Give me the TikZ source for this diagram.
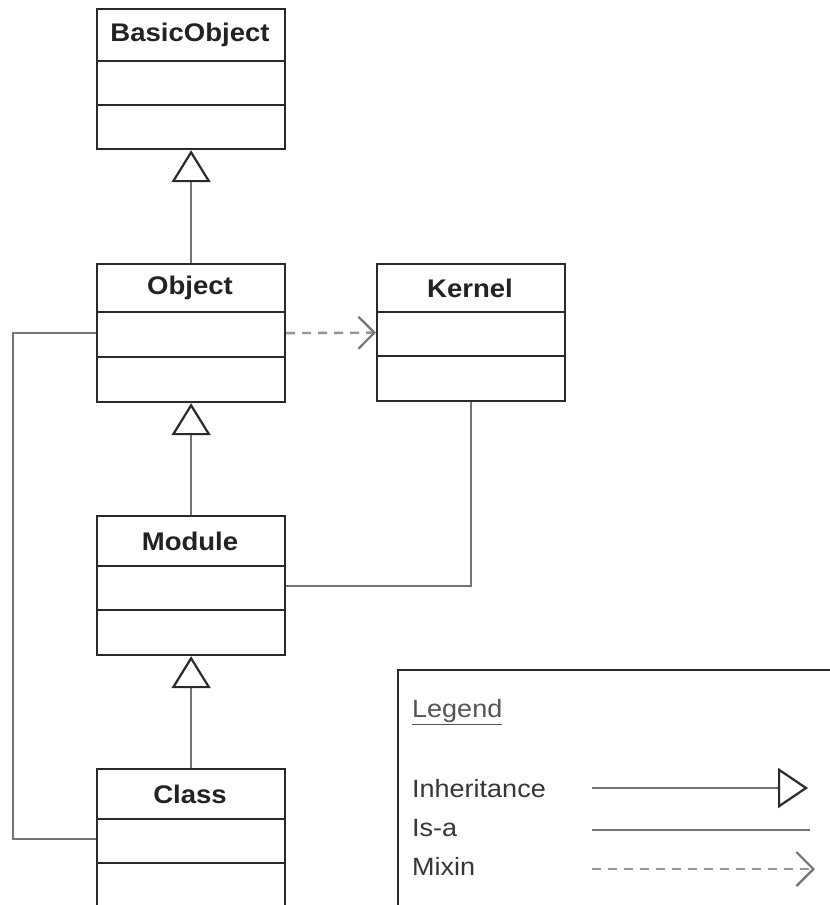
\documentclass[tikz,border=0pt]{standalone}
\usepackage{fontspec}
\setmainfont{Liberation Sans}[FakeStretch=1.08]
\usetikzlibrary{arrows.meta}
\definecolor{boxcol}{HTML}{2A2A2A}
\definecolor{linkcol}{HTML}{747474}
\definecolor{mixcol}{HTML}{969696}
\definecolor{txtcol}{HTML}{222222}
\definecolor{legcol}{HTML}{363636}

\begin{document}
\begin{tikzpicture}[x=1pt,y=-1pt,
  classbox/.style={draw=boxcol, line width=2.2pt, fill=white, minimum width=188pt,
    inner sep=0pt, anchor=north west},
  compline/.style={draw=boxcol, line width=2.2pt},
  classname/.style={font=\fontsize{25.5}{30}\selectfont\bfseries, text=txtcol},
  link/.style={draw=linkcol, line width=2.2pt},
  inherit/.style={link, -{Triangle[open, width=39pt, length=32pt, color=boxcol, line width=2.2pt]}},
  mixin/.style={draw=mixcol, line width=2.4pt, dash pattern=on 9pt off 7pt,
    -{Straight Barb[length=16pt, width=32pt, color=linkcol, line width=2.2pt]}},
  legtext/.style={font=\fontsize{25}{28}\selectfont, text=legcol, anchor=west, inner sep=0pt}
]
\clip (0,0) rectangle (830,905);
\fill[white] (0,0) rectangle (830,905);

% ---- class boxes ----
\node[classbox, minimum height=140pt] (bo) at (96,8) {};
\draw[compline] (96,61) -- (284,61);
\draw[compline] (96,105) -- (284,105);
\node[classname] (bo-t) at (190,35) {BasicObject};

\node[classbox, minimum height=138pt] (obj) at (96,263) {};
\draw[compline] (96,312) -- (284,312);
\draw[compline] (96,357) -- (284,357);
\node[classname] (obj-t) at (190,288) {Object};

\node[classbox, minimum height=137pt] (ker) at (376,263) {};
\draw[compline] (376,312) -- (564,312);
\draw[compline] (376,356) -- (564,356);
\node[classname] (ker-t) at (470,288) {Kernel};

\node[classbox, minimum height=139pt] (mod) at (96,515) {};
\draw[compline] (96,566) -- (284,566);
\draw[compline] (96,610) -- (284,610);
\node[classname] (mod-t) at (190,541) {Module};

\node[classbox, minimum height=140pt] (cls) at (96,768) {};
\draw[compline] (96,819) -- (284,819);
\draw[compline] (96,863) -- (284,863);
\node[classname] (cls-t) at (190,794) {Class};

% ---- relations ----
\draw[inherit] (obj.north) -- (bo.south);
\draw[inherit] (mod.north) -- (obj.south);
\draw[inherit] (cls.north) -- (mod.south);
\draw[mixin] (obj.east) -- (ker.west);
\draw[link] (obj.west) -- ++(-83,0) |- (cls.west);
\draw[link] (ker.south) |- (mod.east);

% ---- legend ----
\node[draw=boxcol, line width=2.2pt, fill=white, minimum width=460pt, minimum height=260pt,
  anchor=north west, inner sep=0pt] (leg) at (397,669) {};
\node[legtext, text=legcol!85] (leg-t) at (412,712) {\underline{Legend}};
\node[legtext] (leg-inh) at (412,789) {Inheritance};
\node[legtext] (leg-isa) at (412,828) {Is-a};
\node[legtext] (leg-mix) at (412,866) {Mixin};

\coordinate (inh-a) at (592,788);
\coordinate (inh-b) at (808,788);
\coordinate (isa-a) at (592,830);
\coordinate (isa-b) at (810,830);
\coordinate (mix-a) at (592,869);
\coordinate (mix-b) at (815,869);
\draw[link, -{Triangle[open, width=40pt, length=30pt, color=boxcol, line width=2.2pt]}] (inh-a) -- (inh-b);
\draw[link] (isa-a) -- (isa-b);
\draw[draw=mixcol, line width=2.4pt, dash pattern=on 9pt off 7pt,
  -{Straight Barb[length=17pt, width=34pt, color=linkcol, line width=2.2pt]}] (mix-a) -- (mix-b);
\end{tikzpicture}
\end{document}
